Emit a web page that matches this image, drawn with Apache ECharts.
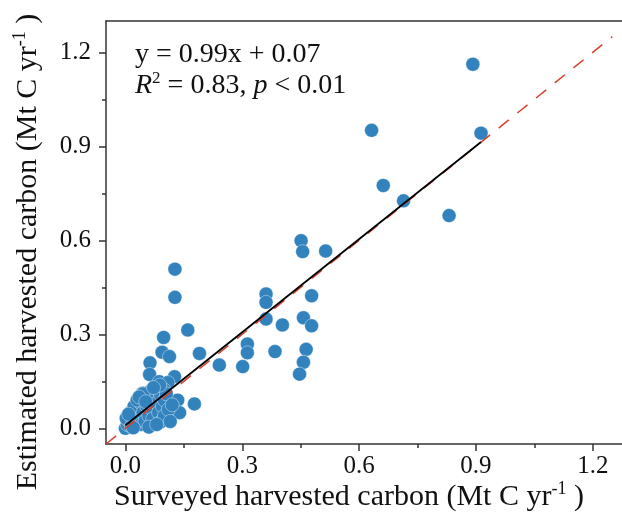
<!DOCTYPE html>
<html>
<head>
<meta charset="utf-8">
<script src="https://cdn.jsdelivr.net/npm/echarts@6/dist/echarts.min.js"></script>
<style>html,body{margin:0;padding:0;background:#fff}#c{width:622px;height:520px}</style>
</head>
<body>
<div id="c"></div>
<script>
// ---- data ----
const majorTicks = [0.0, 0.3, 0.6, 0.9, 1.2];
const minorTicks = [0.15, 0.45, 0.75, 1.05];

// scattered points (surveyed x, estimated y)
const outerX = [0.892,0.632,0.913,0.662,0.714,0.831,0.451,0.455,0.514,0.127,0.127,0.361,0.361,0.478,0.160,0.361,0.403,0.457,0.478,0.098,0.094,0.113,0.190,0.313,0.313,0.384,0.464,0.457,0.447,0.241,0.301,0.063,0.062,0.087,0.126,0.109,0.044,0.177,0.134,0.139,0.100];
const outerY = [1.162,0.951,0.942,0.775,0.726,0.679,0.599,0.564,0.566,0.508,0.418,0.429,0.402,0.423,0.314,0.349,0.330,0.353,0.327,0.290,0.243,0.229,0.239,0.269,0.241,0.245,0.252,0.211,0.173,0.202,0.197,0.209,0.172,0.149,0.165,0.146,0.112,0.078,0.090,0.050,0.122];

// dense cluster near the origin
const clusterX = [0.000,0.005,0.010,0.002,0.015,0.020,0.012,0.025,0.030,0.022,0.035,0.040,0.040,0.045,0.050,0.050,0.055,0.060,0.060,0.065,0.070,0.070,0.075,0.080,0.082,0.085,0.090,0.090,0.095,0.100,0.100,0.105,0.110,0.115,0.120,0.030,0.045,0.020,0.060,0.080,0.088,0.072,0.035,0.008,0.052];
const clusterY = [0.000,0.012,0.022,0.032,0.006,0.040,0.050,0.020,0.060,0.070,0.030,0.012,0.080,0.050,0.100,0.022,0.070,0.040,0.115,0.090,0.060,0.030,0.100,0.080,0.125,0.050,0.108,0.020,0.070,0.090,0.040,0.110,0.060,0.022,0.075,0.090,0.110,0.002,0.004,0.012,0.138,0.130,0.100,0.045,0.085];

// 1:1 line and fitted regression line
const oneToOneX = [-0.05, 1.25];
const fitX = [0.0, 0.913];
const fitY = [0.010, 0.914];

// ---- build options ----
const points = outerX.map((x, i) => [x, outerY[i]])
  .concat(clusterX.map((x, i) => [x, clusterY[i]]));
const oneToOne = oneToOneX.map(v => [v, v]);
const fitLine = fitX.map((x, i) => [x, fitY[i]]);

const FONT = '"Liberation Serif", "Times New Roman", serif';
const AX = '#333';
const XMIN = -0.05, XMAX = 1.275, YMIN = -0.05, YMAX = 1.3;

function mainAxis(min, max, extra) {
  return Object.assign({
    type: 'value', min: min, max: max,
    axisLine: { show: true, onZero: false, lineStyle: { color: AX, width: 1.5 } },
    axisTick: { show: true, customValues: majorTicks, length: 7, lineStyle: { color: AX, width: 1.5 } },
    splitLine: { show: false }
  }, extra);
}
function minorAxis(min, max, pos) {
  return {
    type: 'value', min: min, max: max, position: pos,
    axisLine: { show: false, onZero: false },
    axisTick: { show: true, customValues: minorTicks, length: 4, lineStyle: { color: AX, width: 1.5 } },
    axisLabel: { show: false },
    splitLine: { show: false }
  };
}
function labelStyle(margin) {
  return { customValues: majorTicks, formatter: v => v.toFixed(1), color: '#111', fontFamily: FONT, fontSize: 25, margin: margin };
}

const chart = echarts.init(document.getElementById('c'), null, { renderer: 'canvas' });
chart.setOption({
  animation: false,
  backgroundColor: '#fff',
  grid: { left: 106, top: 21, right: 0, bottom: 76 },
  xAxis: [
    mainAxis(XMIN, XMAX, { position: 'bottom', axisLabel: labelStyle(10) }),
    minorAxis(XMIN, XMAX, 'bottom'),
    { type: 'value', min: XMIN, max: XMAX, position: 'top',
      axisLine: { show: true, onZero: false, lineStyle: { color: AX, width: 1.5 } },
      axisTick: { show: false }, axisLabel: { show: false }, splitLine: { show: false } }
  ],
  yAxis: [
    mainAxis(YMIN, YMAX, { position: 'left', axisLabel: labelStyle(15) }),
    minorAxis(YMIN, YMAX, 'left')
  ],
  series: [
    {
      type: 'scatter', data: points, symbolSize: 14, z: 2,
      itemStyle: { color: '#3182bd', opacity: 1, borderColor: 'rgba(255,255,255,0.8)', borderWidth: 0.5 }
    },
    {
      type: 'line', data: oneToOne, showSymbol: false, symbol: 'none', z: 3, silent: true,
      lineStyle: { color: '#d9412e', width: 1.5, type: [13, 11] }
    },
    {
      type: 'line', data: fitLine, showSymbol: false, symbol: 'none', z: 4, silent: true,
      lineStyle: { color: '#000', width: 1.8 }
    }
  ],
  graphic: [
    {
      type: 'text', x: 135, y: 55, z: 10,
      style: { text: 'y = 0.99x + 0.07', fill: '#111', font: '28px ' + FONT, align: 'left', verticalAlign: 'middle' }
    },
    {
      type: 'text', x: 135, y: 86, z: 10,
      style: {
        text: '{i|R}{s|2}{n| = 0.83, }{i|p}{n| < 0.01}',
        align: 'left', verticalAlign: 'middle',
        rich: {
          i: { fontFamily: FONT, fontSize: 28, fontStyle: 'italic', fill: '#111', lineHeight: 32 },
          n: { fontFamily: FONT, fontSize: 28, fill: '#111', lineHeight: 32 },
          s: { fontFamily: FONT, fontSize: 17, fill: '#111', verticalAlign: 'top', lineHeight: 25 }
        }
      }
    },
    {
      type: 'text', x: 349, y: 497, z: 10,
      style: {
        text: '{n|Surveyed harvested carbon (Mt C yr}{s|-1}{n| )}',
        align: 'center', verticalAlign: 'middle',
        rich: {
          n: { fontFamily: FONT, fontSize: 30, fill: '#111', lineHeight: 34 },
          s: { fontFamily: FONT, fontSize: 18, fill: '#111', verticalAlign: 'top', lineHeight: 24 }
        }
      }
    },
    {
      type: 'text', x: 28, y: 252, rotation: Math.PI / 2, z: 10,
      style: {
        text: '{n|Estimated harvested carbon (Mt C yr}{s|-1}{n| )}',
        align: 'center', verticalAlign: 'middle',
        rich: {
          n: { fontFamily: FONT, fontSize: 30, fill: '#111', lineHeight: 34 },
          s: { fontFamily: FONT, fontSize: 18, fill: '#111', verticalAlign: 'top', lineHeight: 24 }
        }
      }
    }
  ]
});
</script>
</body>
</html>
